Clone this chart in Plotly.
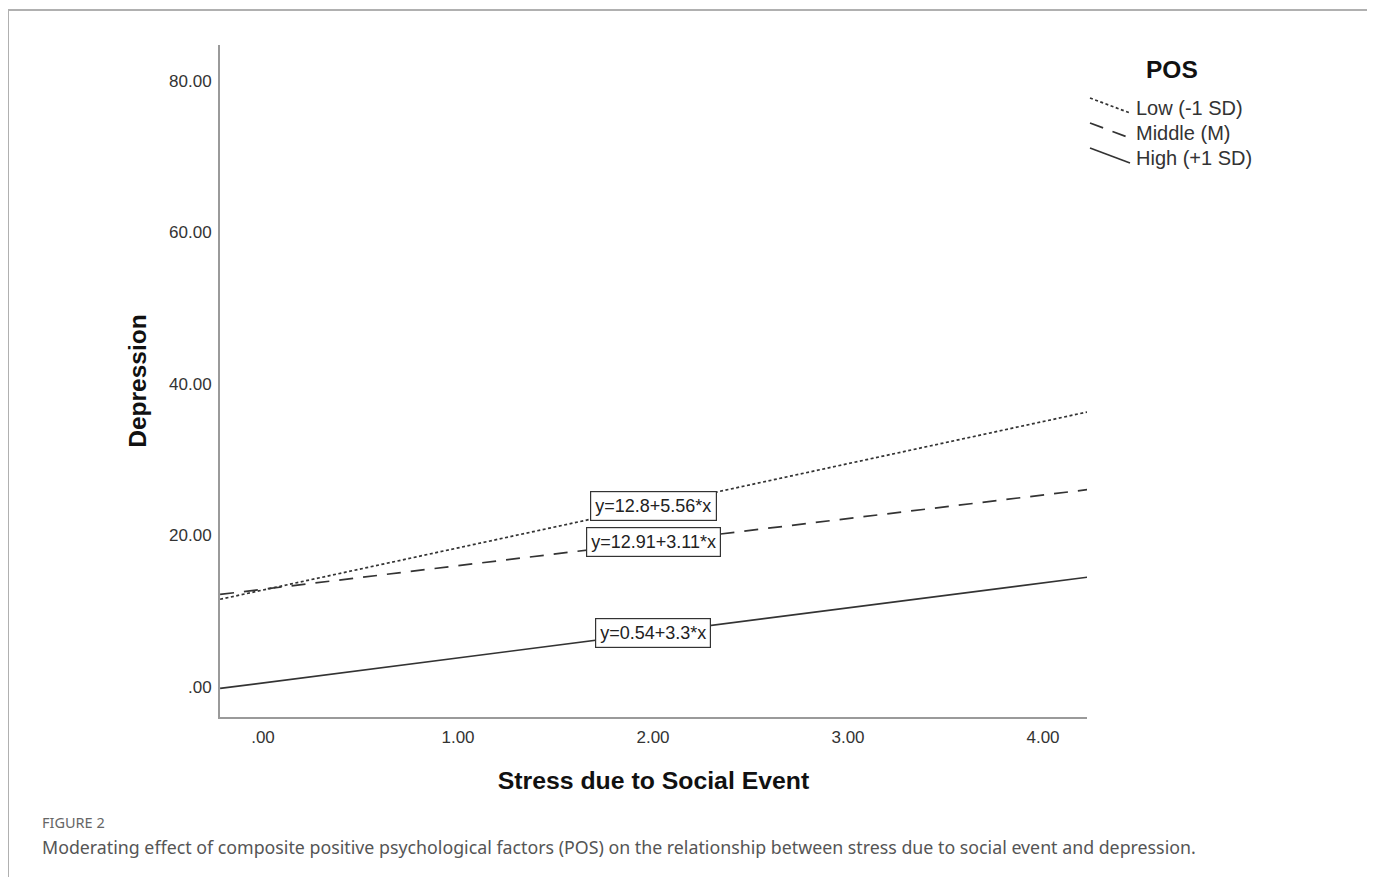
import plotly.graph_objects as go

W, H = 1375, 877
OFF = 8  # page body margin shifts the figure by this many pixels

# ---- data ----
x_ends = [-0.22, 4.226]
low_vals = [11.58, 36.30]
mid_vals = [12.22, 26.05]
high_vals = [-0.19, 14.49]

series_names = ["Low (-1 SD)", "Middle (M)", "High (+1 SD)"]
equations = ["y=12.8+5.56*x", "y=12.91+3.11*x", "y=0.54+3.3*x"]
eq_x = [2.0, 2.0, 2.0]
eq_y = [23.92, 19.13, 7.14]

x_tickvals = [0, 1, 2, 3, 4]
x_ticktext = [".00", "1.00", "2.00", "3.00", "4.00"]
y_tickvals = [0, 20, 40, 60, 80]
y_ticktext = [".00", "20.00", "40.00", "60.00", "80.00"]

line_color = "#333333"
dashes = ["3px,2.5px", "14px,10px", "solid"]
widths = [1.7, 1.7, 1.7]

fig = go.Figure()
for name, vals, d, w in zip(series_names, [low_vals, mid_vals, high_vals], dashes, widths):
    fig.add_trace(go.Scatter(x=x_ends, y=vals, mode="lines", name=name,
                             line=dict(color=line_color, width=w, dash=d),
                             showlegend=False, hoverinfo="skip"))

def px(xp):
    return (xp - OFF) / W

def py(yp):
    return 1 - (yp - OFF) / H

annotations = []
for t, ex, ey in zip(equations, eq_x, eq_y):
    annotations.append(dict(x=ex, y=ey, xref="x", yref="y", text=t, showarrow=False,
                            font=dict(family="Liberation Sans", size=18, color="#222"),
                            bgcolor="white", bordercolor="#333", borderwidth=1.2, borderpad=4))

# custom legend (SPSS style slanted samples)
annotations.append(dict(x=px(1172), y=py(69), xref="paper", yref="paper", text="<b>POS</b>",
                        showarrow=False, xanchor="center", yanchor="middle",
                        font=dict(family="Liberation Sans", size=24.5, color="#111")))
leg_y = [108, 133, 158]
shapes = []
for name, ly, d in zip(series_names, leg_y, dashes):
    annotations.append(dict(x=px(1134), y=py(ly), xref="paper", yref="paper", text=name,
                            showarrow=False, xanchor="left", yanchor="middle",
                            font=dict(family="Liberation Sans", size=20, color="#333")))
    shapes.append(dict(type="line", xref="paper", yref="paper",
                       x0=px(1090), y0=py(ly - 10), x1=px(1130), y1=py(ly + 5),
                       line=dict(color=line_color, width=1.7, dash=d)))

# caption
annotations.append(dict(x=px(40), y=py(822), xref="paper", yref="paper", text="FIGURE 2",
                        showarrow=False, xanchor="left", yanchor="middle",
                        font=dict(family="Noto Sans", size=14.5, color="#666")))
annotations.append(dict(x=px(40), y=py(847), xref="paper", yref="paper",
                        text="Moderating effect of composite positive psychological factors (POS) on the relationship between stress due to social event and depression.",
                        showarrow=False, xanchor="left", yanchor="middle",
                        font=dict(family="Noto Sans", size=17.8, color="#555")))

# outer frame
frame_c = "#b0b0b0"
shapes += [
    dict(type="line", xref="paper", yref="paper", x0=px(8), y0=py(10), x1=px(1369), y1=py(10),
         line=dict(color=frame_c, width=2)),
    dict(type="line", xref="paper", yref="paper", x0=px(8), y0=py(10), x1=px(8), y1=-0.05,
         line=dict(color=frame_c, width=2)),
    dict(type="line", xref="paper", yref="paper", x0=px(1369), y0=py(10), x1=px(1369), y1=-0.05,
         line=dict(color=frame_c, width=2)),
]

fig.update_layout(
    width=W, height=H,
    margin=dict(l=0, r=0, t=0, b=0),
    paper_bgcolor="white", plot_bgcolor="white",
    annotations=annotations, shapes=shapes,
    xaxis=dict(domain=[(220 - OFF) / W, (1087 - OFF) / W], range=[-0.2205, 4.2256],
               tickvals=x_tickvals, ticktext=x_ticktext, showgrid=False, zeroline=False,
               showline=True, linecolor="#9a9a9a", linewidth=2, ticks="", automargin=False,
               ticklabelstandoff=4,
               tickfont=dict(family="Liberation Sans", size=17, color="#333"),
               title=dict(text="<b>Stress due to Social Event</b>", standoff=25,
                          font=dict(family="Liberation Sans", size=24.8, color="#111"))),
    yaxis=dict(domain=[(H - (717 - OFF)) / H, (H - (45 - OFF)) / H], range=[-3.96, 84.75],
               tickvals=y_tickvals, ticktext=y_ticktext, showgrid=False, zeroline=False,
               showline=True, linecolor="#9a9a9a", linewidth=2, ticks="", automargin=False,
               ticklabelstandoff=3,
               tickfont=dict(family="Liberation Sans", size=17, color="#333"),
               title=dict(text="<b>Depression</b>", standoff=15,
                          font=dict(family="Liberation Sans", size=24.5, color="#111"))),
)

fig.write_html("out.html")
